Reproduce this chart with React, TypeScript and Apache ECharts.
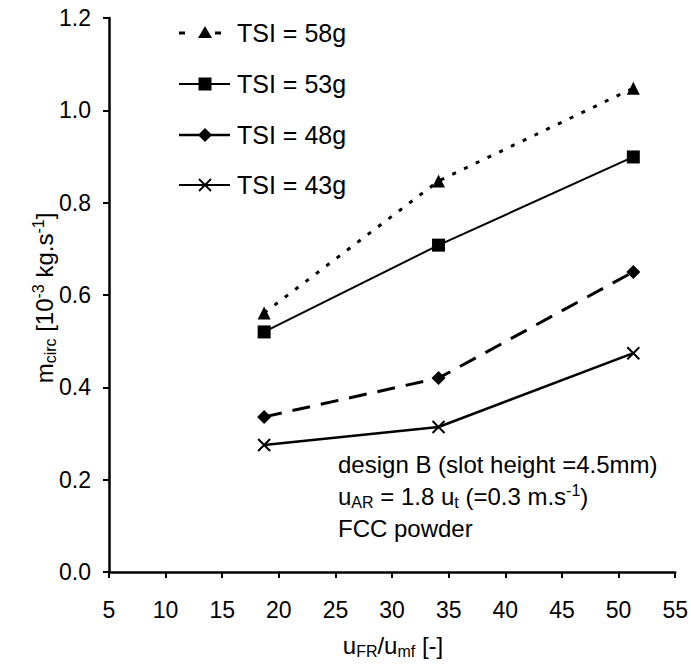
import React, { useEffect, useRef } from "react";
import * as echarts from "echarts";

const xValues = [18.7, 34.1, 51.3];
const tsi58 = [0.561, 0.847, 1.048];
const tsi53 = [0.52, 0.708, 0.899];
const tsi48 = [0.336, 0.42, 0.65];
const tsi43 = [0.275, 0.314, 0.474];
const legendLabels = ["TSI = 58g", "TSI = 53g", "TSI = 48g", "TSI = 43g"];

const FONT = "'Liberation Sans', Arial, Helvetica, sans-serif";
const CROSS = "path://M0,0L10,10M10,0L0,10";

function pairs(ys: number[]) {
  return xValues.map((x, i) => [x, ys[i]]);
}

export default function App() {
  const ref = useRef<HTMLDivElement>(null);
  useEffect(() => {
    document.body.style.margin = "0";
    if (!ref.current) return;
    const chart = echarts.init(ref.current, null, { renderer: "svg" });
    const legendY = [33, 84, 135, 185];
    const lx0 = 179, lx1 = 230, lsx = 205, ltx = 237;
    const legendGraphics: any[] = [];
    legendGraphics.push(
      { type: "line", shape: { x1: lx0, y1: legendY[0], x2: lx0 + 6, y2: legendY[0] }, style: { stroke: "#000", lineWidth: 3 } },
      { type: "line", shape: { x1: 215, y1: legendY[0], x2: 221, y2: legendY[0] }, style: { stroke: "#000", lineWidth: 3 } },
      { type: "polygon", shape: { points: [[lsx, legendY[0] - 7], [lsx - 7, legendY[0] + 5], [lsx + 7, legendY[0] + 5]] }, style: { fill: "#000" } }
    );
    legendGraphics.push(
      { type: "line", shape: { x1: lx0, y1: legendY[1], x2: lx1, y2: legendY[1] }, style: { stroke: "#000", lineWidth: 2 } },
      { type: "rect", shape: { x: lsx - 6.5, y: legendY[1] - 6.5, width: 13, height: 13 }, style: { fill: "#000" } }
    );
    legendGraphics.push(
      { type: "line", shape: { x1: lx0, y1: legendY[2], x2: lx1, y2: legendY[2] }, style: { stroke: "#000", lineWidth: 2.5 } },
      { type: "polygon", shape: { points: [[lsx, legendY[2] - 7], [lsx + 7, legendY[2]], [lsx, legendY[2] + 7], [lsx - 7, legendY[2]]] }, style: { fill: "#000" } }
    );
    legendGraphics.push(
      { type: "line", shape: { x1: lx0, y1: legendY[3], x2: lx1, y2: legendY[3] }, style: { stroke: "#000", lineWidth: 2 } },
      { type: "line", shape: { x1: lsx - 6, y1: legendY[3] - 6, x2: lsx + 6, y2: legendY[3] + 6 }, style: { stroke: "#000", lineWidth: 1.8 } },
      { type: "line", shape: { x1: lsx - 6, y1: legendY[3] + 6, x2: lsx + 6, y2: legendY[3] - 6 }, style: { stroke: "#000", lineWidth: 1.8 } }
    );
    legendLabels.forEach((t, i) => {
      legendGraphics.push({
        type: "text",
        x: ltx,
        y: legendY[i],
        style: { text: t, font: `25px ${FONT}`, fill: "#000", align: "left", verticalAlign: "middle" },
      });
    });

    const rich = {
      n: { fontSize: 24, fontFamily: FONT, color: "#000", lineHeight: 30, verticalAlign: "middle" },
      sub: { fontSize: 16, fontFamily: FONT, color: "#000", lineHeight: 30, padding: [12, 0, 0, 0] },
      sup: { fontSize: 16, fontFamily: FONT, color: "#000", lineHeight: 30, padding: [0, 0, 12, 0] },
    };

    const option: any = {
      animation: false,
      backgroundColor: "#fff",
      grid: { left: 109, right: 14, top: 18, bottom: 96, containLabel: false },
      xAxis: {
        type: "value",
        min: 5,
        max: 55,
        interval: 5,
        splitLine: { show: false },
        axisLine: { onZero: false, lineStyle: { color: "#000", width: 2.5 } },
        axisTick: { inside: false, length: 6, lineStyle: { color: "#000", width: 2 } },
        axisLabel: { color: "#000", fontSize: 23, fontFamily: FONT, margin: 26 },
      },
      yAxis: {
        type: "value",
        min: 0,
        max: 1.2,
        interval: 0.2,
        splitLine: { show: false },
        axisLine: { show: true, lineStyle: { color: "#000", width: 2.5 } },
        axisTick: { show: true, length: 6, lineStyle: { color: "#000", width: 2 } },
        axisLabel: { color: "#000", fontSize: 23, fontFamily: FONT, margin: 18, formatter: (v: number) => v.toFixed(1) },
      },
      series: [
        {
          name: legendLabels[0],
          type: "line",
          data: pairs(tsi58),
          symbol: "triangle",
          symbolSize: 13,
          lineStyle: { color: "#000", width: 3, type: [4, 9] },
          itemStyle: { color: "#000" },
        },
        {
          name: legendLabels[1],
          type: "line",
          data: pairs(tsi53),
          symbol: "rect",
          symbolSize: 13,
          lineStyle: { color: "#000", width: 2, type: "solid" },
          itemStyle: { color: "#000" },
        },
        {
          name: legendLabels[2],
          type: "line",
          data: pairs(tsi48),
          symbol: "diamond",
          symbolSize: [14, 14],
          lineStyle: { color: "#000", width: 3, type: [18, 11] },
          itemStyle: { color: "#000" },
        },
        {
          name: legendLabels[3],
          type: "line",
          data: pairs(tsi43),
          symbol: CROSS,
          symbolSize: 12,
          lineStyle: { color: "#000", width: 2.5, type: "solid" },
          itemStyle: { color: "none", borderColor: "#000", borderWidth: 2 },
        },
      ],
      graphic: [
        ...legendGraphics,
        {
          type: "text",
          x: 44,
          y: 298,
          rotation: Math.PI / 2,
          style: {
            text: "{n|m}{sub|circ}{n| [10}{sup|-3}{n| kg.s}{sup|-1}{n|]}",
            rich,
            align: "center",
            verticalAlign: "middle",
          },
        },
        {
          type: "text",
          x: 393,
          y: 645,
          style: {
            text: "{n|u}{sub|FR}{n|/u}{sub|mf}{n| [-]}",
            rich,
            align: "center",
            verticalAlign: "middle",
          },
        },
        {
          type: "text",
          x: 338,
          y: 464,
          style: { text: "{n|design B (slot height =4.5mm)}", rich, align: "left", verticalAlign: "middle" },
        },
        {
          type: "text",
          x: 338,
          y: 496,
          style: { text: "{n|u}{sub|AR}{n| = 1.8 u}{sub|t}{n| (=0.3 m.s}{sup|-1}{n|)}", rich, align: "left", verticalAlign: "middle" },
        },
        {
          type: "text",
          x: 338,
          y: 528,
          style: { text: "{n|FCC powder}", rich, align: "left", verticalAlign: "middle" },
        },
      ],
    };
    chart.setOption(option);
    return () => chart.dispose();
  }, []);
  return <div ref={ref} style={{ width: 691, height: 668 }} />;
}
